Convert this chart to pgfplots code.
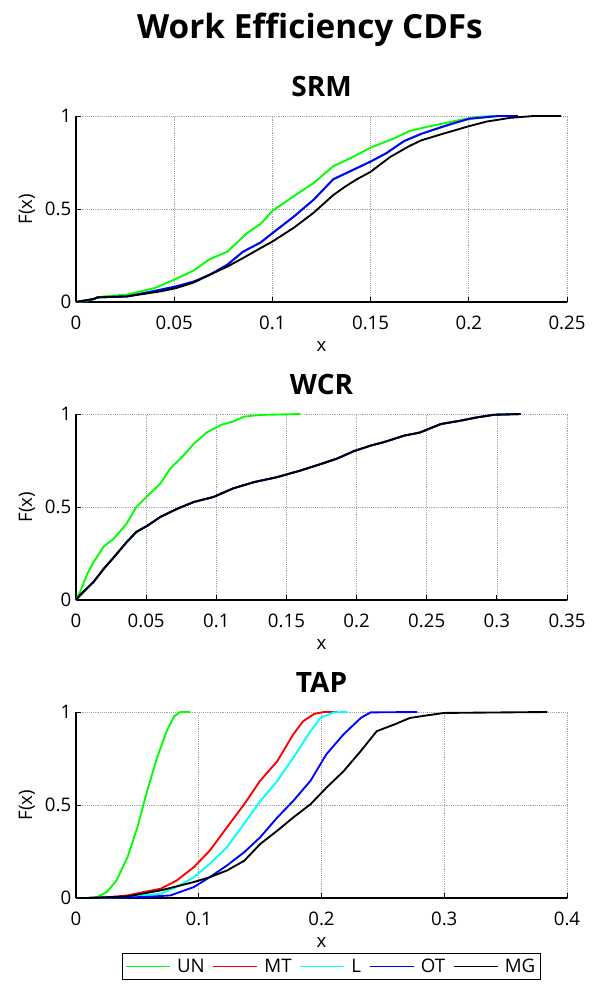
\documentclass[border=0pt]{standalone}
\usepackage{pgfplots}
\pgfplotsset{compat=1.18}
\usepackage{pgfplotstable}
\usepackage{fontspec}
\setmainfont{Open Sans}
\setsansfont{Open Sans}

% ---------- SRM ----------
\pgfplotstableread{
x y
0 0
0.005 0.005
0.014 0.03
0.026 0.04
0.04 0.075
0.05 0.12
0.06 0.17
0.068 0.23
0.077 0.27
0.087 0.37
0.094 0.42
0.1 0.49
0.111 0.57
0.121 0.64
0.131 0.73
0.141 0.78
0.15 0.83
0.162 0.88
0.17 0.92
0.18 0.945
0.187 0.96
0.196 0.98
0.204 0.995
0.212 1
0.215 1
}\srmUN
\pgfplotstableread{
x y
0 0
0.009 0.016
0.011 0.025
0.026 0.03
0.043 0.066
0.051 0.084
0.06 0.11
0.068 0.146
0.077 0.2
0.085 0.27
0.094 0.32
0.1 0.37
0.111 0.46
0.121 0.55
0.131 0.66
0.141 0.71
0.15 0.755
0.158 0.8
0.167 0.865
0.176 0.905
0.186 0.94
0.192 0.96
0.2 0.985
0.215 1
0.225 1
}\srmOT
\pgfplotstableread{
x y
0 0
0.009 0.016
0.011 0.025
0.026 0.03
0.043 0.057
0.051 0.075
0.06 0.105
0.068 0.146
0.077 0.19
0.085 0.236
0.094 0.29
0.1 0.325
0.111 0.4
0.121 0.48
0.131 0.575
0.137 0.62
0.143 0.66
0.15 0.70
0.16 0.78
0.17 0.84
0.176 0.87
0.187 0.905
0.2 0.945
0.209 0.97
0.221 0.99
0.233 1
0.247 1
}\srmMG

% ---------- WCR ----------
\pgfplotstableread{
x y
0 0
0.003 0.045
0.008 0.14
0.0126 0.205
0.02 0.29
0.027 0.33
0.036 0.41
0.043 0.5
0.051 0.56
0.06 0.625
0.067 0.705
0.077 0.78
0.084 0.84
0.093 0.9
0.103 0.94
0.112 0.96
0.12 0.986
0.131 0.995
0.16 1
}\wcrUN
\pgfplotstableread{
x y
0 0
0.003 0.027
0.0126 0.098
0.02 0.17
0.027 0.23
0.036 0.31
0.043 0.366
0.051 0.4
0.06 0.446
0.072 0.49
0.084 0.527
0.098 0.554
0.112 0.6
0.127 0.634
0.143 0.66
0.16 0.696
0.174 0.73
0.186 0.76
0.198 0.8
0.21 0.83
0.22 0.85
0.234 0.884
0.245 0.9
0.26 0.946
0.274 0.964
0.286 0.982
0.298 0.996
0.317 1
}\wcrMG

% ---------- TAP ----------
\pgfplotstableread{
x y
0.009 0
0.017 0.005
0.025 0.032
0.033 0.094
0.042 0.22
0.05 0.38
0.058 0.576
0.066 0.754
0.074 0.9
0.08 0.977
0.085 1
0.093 1
}\tapUN
\pgfplotstableread{
x y
0.009 0
0.028 0.005
0.042 0.014
0.055 0.032
0.069 0.05
0.082 0.094
0.096 0.166
0.109 0.255
0.123 0.38
0.137 0.504
0.15 0.63
0.164 0.736
0.177 0.88
0.185 0.95
0.194 0.99
0.202 1
0.213 1
}\tapMT
\pgfplotstableread{
x y
0.009 0
0.042 0.005
0.069 0.023
0.082 0.059
0.096 0.112
0.109 0.184
0.123 0.273
0.137 0.4
0.15 0.52
0.164 0.63
0.177 0.754
0.191 0.897
0.199 0.968
0.21 0.998
0.221 1
}\tapL
\pgfplotstableread{
x y
0.009 0
0.055 0.005
0.077 0.014
0.096 0.059
0.109 0.112
0.123 0.175
0.137 0.246
0.15 0.326
0.164 0.433
0.177 0.522
0.191 0.63
0.204 0.773
0.218 0.88
0.232 0.968
0.24 0.998
0.278 1
}\tapOT
\pgfplotstableread{
x y
0.009 0
0.042 0.009
0.069 0.041
0.096 0.086
0.109 0.112
0.123 0.148
0.137 0.2
0.15 0.29
0.164 0.362
0.177 0.433
0.191 0.504
0.204 0.593
0.218 0.682
0.232 0.79
0.245 0.897
0.259 0.932
0.272 0.968
0.286 0.982
0.3 0.995
0.384 1
}\tapMG

\definecolor{mgreen}{rgb}{0,1,0}
\definecolor{mcyan}{rgb}{0,1,1}
\definecolor{mred}{rgb}{1,0,0}
\definecolor{mblue}{rgb}{0,0,1}

\pgfplotsset{
  cdfax/.style={
    width=368.25pt, height=139.5pt, scale only axis,
    axis x line*=bottom, axis y line*=left,
    ymin=0, ymax=1, ytick={0,0.5,1}, yticklabels={0,0.5,1},
    grid=major,
    major grid style={densely dotted, gray!70, line width=0.5pt},
    tick align=inside, major tick length=4pt,
    tick style={black, line width=0.6pt},
    axis line style={black, line width=0.8pt},
    ticklabel style={font=\fontsize{14}{16}\selectfont},
    xticklabel style={yshift=-7pt},
    label style={font=\fontsize{14}{16}\selectfont},
    title style={font=\bfseries\fontsize{21}{24}\selectfont, yshift=5pt},
    xlabel={x}, ylabel={F(x)},
    xlabel style={at={(axis description cs:0.5,0)}, anchor=center, yshift=-33pt},
    ylabel style={at={(axis description cs:-0.1,0.5)}, anchor=center},
    /pgf/number format/assume math mode=true,
    scaled ticks=false,
    every axis plot/.append style={line width=1.4pt, no marks},
    clip=false,
  },
}

\begin{document}
\begin{tikzpicture}
\useasboundingbox (-57pt,0pt) rectangle (396pt,-742.5pt);
\node[font=\bfseries\fontsize{25}{28}\selectfont] at (175.5pt,-22pt) {Work Efficiency CDFs};

\begin{axis}[cdfax, at={(0pt,-226.5pt)}, title={SRM},
  xmin=0, xmax=0.25, xtick={0,0.05,0.1,0.15,0.2,0.25},
  xticklabels={0,0.05,0.1,0.15,0.2,0.25}]
\addplot[mgreen] table {\srmUN};
\addplot[mred] table {\srmOT};
\addplot[mcyan] table {\srmOT};
\addplot[mblue] table {\srmOT};
\addplot[black] table {\srmMG};
\end{axis}

\begin{axis}[cdfax, at={(0pt,-450pt)}, title={WCR},
  xmin=0, xmax=0.35, xtick={0,0.05,0.1,0.15,0.2,0.25,0.3,0.35},
  xticklabels={0,0.05,0.1,0.15,0.2,0.25,0.3,0.35}]
\addplot[mgreen] table {\wcrUN};
\addplot[mred] table {\wcrMG};
\addplot[mcyan] table {\wcrMG};
\addplot[mblue] table {\wcrMG};
\addplot[black] table {\wcrMG};
\end{axis}

\begin{axis}[cdfax, at={(0pt,-673.5pt)}, title={TAP},
  xmin=0, xmax=0.4, xtick={0,0.1,0.2,0.3,0.4},
  xticklabels={0,0.1,0.2,0.3,0.4},
  legend columns=5,
  legend style={at={(0.094,-0.296)}, anchor=north west,
    font=\fontsize{14}{16}\selectfont, draw=black, line width=0.8pt,
    inner sep=2pt,
    /tikz/every odd column/.append style={column sep=3pt},
    /tikz/every even column/.append style={column sep=4pt}},
  legend image post style={line width=0.8pt},
  legend image code/.code={\draw[#1] (0cm,0cm) -- (33pt,0cm);}]
\addplot[mgreen] table {\tapUN};
\addplot[mred] table {\tapMT};
\addplot[mcyan] table {\tapL};
\addplot[mblue] table {\tapOT};
\addplot[black] table {\tapMG};
\legend{UN,MT,L,OT,MG}
\end{axis}
\end{tikzpicture}
\end{document}
